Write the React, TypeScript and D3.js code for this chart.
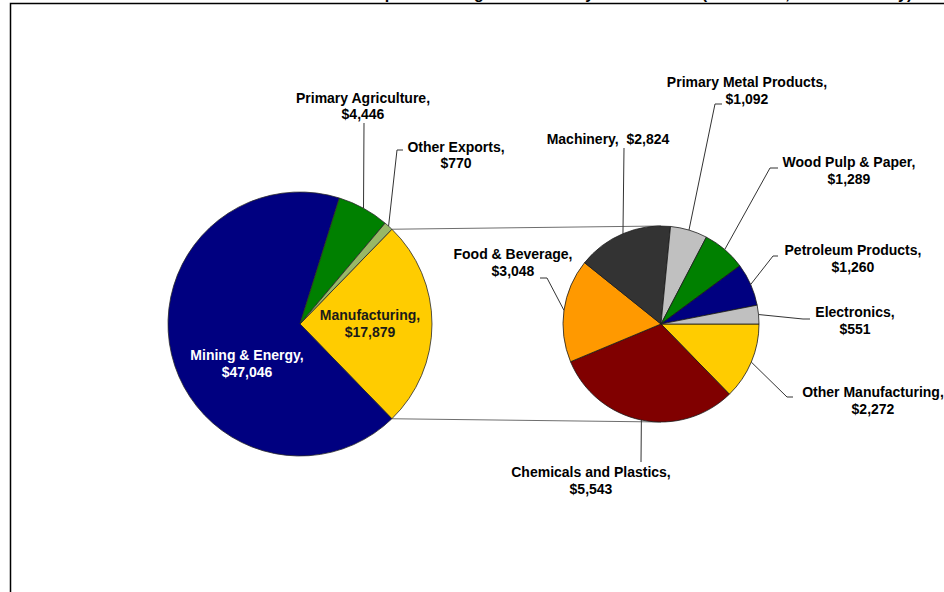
import React from "react";
import * as d3 from "d3";

// ---------- data ----------
const title = "Merchandise Exports Among Each Industry Sectors 2006 (In Millions, Current Money)";

const mainCategories = ["Manufacturing", "Mining & Energy", "Primary Agriculture", "Other Exports"];
const mainValues = [17879, 47046, 4446, 770];
const mainColors = ["#FFCC00", "#000080", "#008000", "#98B866"];

const subCategories = [
  "Other Manufacturing",
  "Chemicals and Plastics",
  "Food & Beverage",
  "Machinery",
  "Primary Metal Products",
  "Wood Pulp & Paper",
  "Petroleum Products",
  "Electronics",
];
const subValues = [2272, 5543, 3048, 2824, 1092, 1289, 1260, 551];
const subColors = ["#FFCC00", "#800000", "#FF9900", "#333333", "#C0C0C0", "#008000", "#000080", "#C0C0C0"];

// ---------- layout ----------
const W = 944;
const H = 592;
const main = { cx: 300, cy: 324, r: 132 };
const sub = { cx: 661, cy: 324, r: 98 };
const FONT = "'Liberation Sans', Arial, sans-serif";
const LINE = 17;

type Lab = { x: number; y: number; fill?: string; leader?: number[][]; single?: boolean; lh?: number };

const mainLabels: Lab[] = [
  { x: 370, y: 315, fill: "#1a1a1a" },
  { x: 247, y: 355, fill: "#ffffff" },
  { x: 363, y: 98, leader: [[364, 123]], lh: 16 },
  { x: 456, y: 147, leader: [[397, 150], [403, 150]], lh: 15.5 },
];

const subLabels: Lab[] = [
  { x: 873, y: 392, leader: [[787, 397], [793, 397]] },
  { x: 591, y: 472, leader: [[641, 462]] },
  { x: 513, y: 254, leader: [[547, 278], [540, 278]] },
  { x: 608, y: 139, single: true, leader: [[624, 148]] },
  { x: 747, y: 82, leader: [[715, 104], [722, 104]] },
  { x: 849, y: 162, leader: [[770, 168], [778, 168]] },
  { x: 853, y: 250, leader: [[773, 256], [778, 256]] },
  { x: 855, y: 312, leader: [[803, 319], [810, 319]] },
];

const fmt = d3.format(",");

function pt(c: { cx: number; cy: number }, r: number, a: number): [number, number] {
  return [c.cx + r * Math.sin(a), c.cy - r * Math.cos(a)];
}

export default function App() {
  const mainTotal = d3.sum(mainValues);
  const manufAngle = (2 * Math.PI * mainValues[0]) / mainTotal;
  const mainStart = Math.PI / 2 - manufAngle / 2;

  const mainPie = d3
    .pie<number>()
    .sort(null)
    .startAngle(mainStart)
    .endAngle(mainStart + 2 * Math.PI)(mainValues);

  const subPie = d3
    .pie<number>()
    .sort(null)
    .startAngle(Math.PI / 2)
    .endAngle(Math.PI / 2 + 2 * Math.PI)(subValues);

  const mainArc = d3.arc<d3.PieArcDatum<number>>().innerRadius(0).outerRadius(main.r);
  const subArc = d3.arc<d3.PieArcDatum<number>>().innerRadius(0).outerRadius(sub.r);

  const manuf = mainPie[0];
  const c1 = pt(main, main.r, manuf.startAngle);
  const c2 = pt(main, main.r, manuf.endAngle);

  const line = d3.line();

  const renderLabel = (
    name: string,
    value: number,
    lab: Lab,
    d: d3.PieArcDatum<number>,
    c: { cx: number; cy: number; r: number },
    key: string
  ) => {
    const mid = (d.startAngle + d.endAngle) / 2;
    const edge = pt(c, c.r, mid);
    const lh = lab.lh ?? LINE;
    const fill = lab.fill ?? "#000000";
    return (
      <g key={key}>
        {lab.leader && (
          <path
            d={line([edge, ...(lab.leader as [number, number][])]) || ""}
            fill="none"
            stroke="#333333"
            strokeWidth={1}
          />
        )}
        {lab.single ? (
          <text x={lab.x} y={lab.y + 5} textAnchor="middle" fill={fill} style={{ whiteSpace: "pre" }}>
            {`${name},  $${fmt(value)}`}
          </text>
        ) : (
          <>
            <text x={lab.x} y={lab.y + 5} textAnchor="middle" fill={fill}>
              {`${name},`}
            </text>
            <text x={lab.x} y={lab.y + 5 + lh} textAnchor="middle" fill={fill}>
              {`$${fmt(value)}`}
            </text>
          </>
        )}
      </g>
    );
  };

  return (
    <svg
      width={W}
      height={H}
      style={{ position: "absolute", left: 0, top: 0, background: "#ffffff" }}
      fontFamily={FONT}
      fontWeight="bold"
      fontSize={14}
    >
      <rect x={0} y={0} width={W} height={H} fill="#ffffff" />
      {/* title (mostly above the visible area) */}
      <text x={263} y={-0.8} fontSize={16} fill="#000000">
        {title}
      </text>
      {/* frame */}
      <path d={`M${W},3.5 H10.5 V${H}`} fill="none" stroke="#000000" strokeWidth={1.5} />

      {/* connector lines */}
      <line x1={c1[0]} y1={c1[1]} x2={sub.cx} y2={sub.cy - sub.r} stroke="#6e6e6e" strokeWidth={1} />
      <line x1={c2[0]} y1={c2[1]} x2={sub.cx} y2={sub.cy + sub.r} stroke="#6e6e6e" strokeWidth={1} />

      {/* main pie */}
      <g transform={`translate(${main.cx},${main.cy})`}>
        {mainPie.map((d, i) => (
          <path key={i} d={mainArc(d) || ""} fill={mainColors[i]} stroke="#2a2a2a" strokeWidth={0.8} />
        ))}
      </g>
      {/* secondary pie */}
      <g transform={`translate(${sub.cx},${sub.cy})`}>
        {subPie.map((d, i) => (
          <path key={i} d={subArc(d) || ""} fill={subColors[i]} stroke="#1a1a1a" strokeWidth={0.8} />
        ))}
      </g>

      {mainPie.map((d, i) => renderLabel(mainCategories[i], mainValues[i], mainLabels[i], d, main, "m" + i))}
      {subPie.map((d, i) => renderLabel(subCategories[i], subValues[i], subLabels[i], d, sub, "s" + i))}
    </svg>
  );
}
